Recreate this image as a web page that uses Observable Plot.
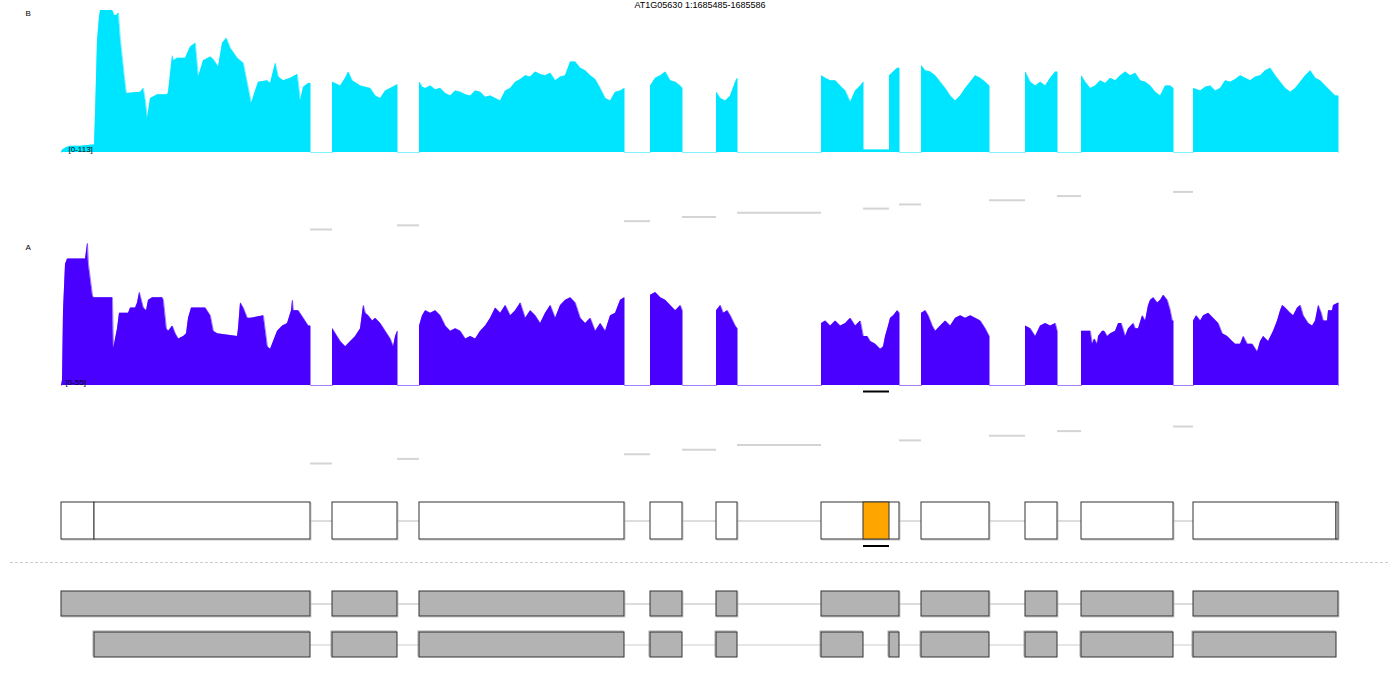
<!DOCTYPE html>
<html><head><meta charset="utf-8">
<script src="https://cdn.jsdelivr.net/npm/d3@7"></script>
<script src="https://cdn.jsdelivr.net/npm/@observablehq/plot@0.6"></script>
<style>
body{margin:0;background:#fff;font-family:"Liberation Sans",Arial,sans-serif;}
#wrap{position:relative;width:1400px;height:700px;overflow:hidden;background:#fff;}
#wrap svg{position:absolute;left:0;top:0;background:transparent;}
#title{position:absolute;top:1px;left:0;width:1400px;text-align:center;font-size:9px;line-height:9px;color:#000;}
</style></head><body>
<div id="wrap"><div id="title"></div></div>
<script>
const title = "AT1G05630 1:1685485-1685586";
const labelB = "B", rangeB = "[0-113]", maxB = 113;
const labelA = "A", rangeA = "[0-55]", maxA = 55;
const colB = "#00e5ff", colA = "#4a00ff";

// coverage [position, depth]
const covB = [[61,0],[62,2],[66,4],[70,5],[80,5],[92,6],[94,6],[95,30],[97,89],[99,108],[100,113],[112,113],[114,109],[116,109],[118,111],[120,90],[124,60],[126,47],[140,48],[143,51],[145,41],[147,27],[150,43],[157,46],[167,46],[168,48],[172,77],[173,73],[177,75],[185,75],[190,84],[195,87],[198,60],[203,73],[210,76],[213,74],[218,68],[222,87],[226,91],[230,83],[237,75],[243,71],[247,55],[251,39],[255,49],[258,56],[267,57],[270,55],[275,71],[278,60],[283,57],[290,59],[297,62],[300,41],[303,52],[308,55],[310,55],[310,0],
[332,0],[332,56],[340,53],[345,59],[348,64],[352,57],[360,53],[370,51],[375,45],[380,43],[385,49],[390,51],[397,54],[397,0],
[419,0],[419,56],[422,52],[425,51],[430,53],[435,50],[440,51],[445,47],[450,45],[455,49],[460,48],[465,46],[470,45],[475,49],[480,48],[485,44],[490,45],[495,43],[500,41],[505,49],[510,51],[515,56],[520,58],[525,61],[530,60],[535,64],[540,62],[545,61],[550,63],[555,57],[560,60],[565,61],[570,72],[575,72],[580,67],[585,65],[590,61],[595,58],[600,51],[605,43],[610,41],[615,48],[620,49],[624,51],[624,0],
[650,0],[650,53],[655,59],[660,61],[665,64],[670,57],[675,56],[680,53],[682,51],[682,0],
[716,0],[716,48],[720,43],[725,41],[730,45],[735,56],[737,59],[737,0],
[821,0],[821,61],[825,59],[830,57],[835,57],[840,53],[845,49],[850,40],[855,49],[860,53],[863,56],[863,2],[889,2],[889,61],[893,64],[897,67],[899,67],[899,0],
[921,0],[921,69],[925,65],[930,64],[935,61],[940,56],[945,51],[950,45],[955,41],[960,45],[965,51],[970,56],[975,61],[980,59],[985,56],[989,53],[989,0],
[1025,0],[1025,64],[1030,56],[1035,53],[1040,56],[1045,53],[1050,59],[1055,64],[1057,64],[1057,0],
[1081,0],[1081,61],[1085,56],[1090,51],[1095,53],[1100,57],[1105,55],[1110,59],[1115,57],[1120,61],[1125,64],[1130,61],[1135,63],[1140,57],[1145,56],[1150,53],[1155,48],[1160,45],[1165,53],[1170,53],[1173,51],[1173,0],
[1193,0],[1193,51],[1200,49],[1205,52],[1210,53],[1215,49],[1220,51],[1225,57],[1230,56],[1235,58],[1240,61],[1245,59],[1250,57],[1255,60],[1260,61],[1265,65],[1270,67],[1275,61],[1280,56],[1285,51],[1290,48],[1295,51],[1300,56],[1305,61],[1310,65],[1315,59],[1320,57],[1325,53],[1330,49],[1335,45],[1338,45],[1338,0]];

const covA = [[61,0],[62,2],[63,29],[65,47],[67,49],[85,49],[87,55],[88,47],[92,35],[93,34],[112,34],[113,14],[117,22],[119,28],[128,28],[130,30],[135,30],[137,32],[139,36],[143,30],[146,29],[148,33],[152,34],[162,34],[163,33],[166,22],[168,21],[172,23],[175,20],[178,18],[183,19],[186,20],[188,26],[191,30],[205,30],[210,27],[213,21],[217,20],[237,19],[238,22],[240,32],[243,30],[247,26],[250,26],[263,27],[267,15],[270,14],[273,17],[277,21],[282,23],[287,24],[291,29],[292,33],[293,29],[298,29],[303,26],[308,23],[310,23],[310,0],
[332,0],[332,22],[340,17],[345,15],[350,17],[355,19],[360,22],[363,31],[365,28],[368,27],[372,25],[375,26],[380,24],[385,21],[390,18],[393,15],[395,19],[397,21],[397,0],
[419,0],[419,23],[422,27],[425,29],[430,28],[435,29],[440,27],[445,23],[450,21],[455,22],[460,21],[465,18],[470,19],[475,18],[480,21],[485,23],[490,26],[495,30],[500,28],[505,31],[510,27],[515,29],[520,32],[525,26],[530,29],[535,27],[540,24],[545,28],[550,31],[555,26],[560,31],[565,33],[570,34],[575,32],[580,26],[585,24],[590,26],[595,21],[600,24],[605,21],[610,27],[615,28],[620,33],[624,34],[624,0],
[650,0],[650,35],[655,36],[660,34],[665,33],[670,31],[675,29],[680,31],[682,29],[682,0],
[716,0],[716,29],[720,31],[723,28],[727,29],[730,27],[735,23],[737,22],[737,0],
[821,0],[821,24],[825,25],[830,23],[835,25],[840,23],[845,24],[850,26],[855,23],[860,25],[863,19],[867,19],[870,17],[875,16],[880,14],[883,15],[885,19],[888,23],[890,26],[893,27],[897,29],[899,28],[899,0],
[921,0],[921,28],[925,29],[928,27],[932,23],[935,21],[940,23],[945,25],[950,23],[955,26],[960,27],[965,26],[970,27],[975,26],[980,25],[985,22],[989,19],[989,0],
[1025,0],[1025,23],[1030,22],[1035,19],[1040,23],[1045,24],[1050,23],[1055,24],[1057,21],[1057,0],
[1081,0],[1081,21],[1090,21],[1092,16],[1094,18],[1097,16],[1098,19],[1102,21],[1104,21],[1107,19],[1110,20],[1115,21],[1118,24],[1121,24],[1125,19],[1128,22],[1133,24],[1135,22],[1138,22],[1142,27],[1145,25],[1148,31],[1150,33],[1153,34],[1157,32],[1160,33],[1163,35],[1167,33],[1170,29],[1172,25],[1173,25],[1173,0],
[1193,0],[1193,25],[1196,27],[1200,25],[1203,27],[1208,28],[1213,26],[1218,24],[1222,20],[1227,19],[1232,17],[1235,16],[1240,16],[1243,19],[1247,16],[1252,16],[1257,13],[1260,17],[1263,19],[1268,17],[1273,21],[1277,25],[1280,29],[1282,31],[1285,30],[1290,28],[1293,27],[1297,30],[1300,31],[1303,27],[1308,24],[1312,23],[1315,25],[1318,31],[1321,28],[1323,25],[1327,25],[1328,29],[1332,29],[1333,31],[1338,32],[1338,0]];

// splice junctions [start, end]
const junctionsB = [[310,332],[397,419],[624,650],[682,716],[737,821],[863,889],[899,921],[989,1025],[1057,1081],[1173,1193]];
const junctionsA = [[310,332],[397,419],[624,650],[682,716],[737,821],[899,921],[989,1025],[1057,1081],[1173,1193]];

// gene model & transcripts [start, end]
const modelExons = [[61,94],[94,310],[332,397],[419,624],[650,682],[716,737],[821,899],[921,989],[1025,1057],[1081,1173],[1193,1336],[1336,1338]];
const highlight = [863,889];
const t1Exons = [[61,310],[332,397],[419,624],[650,682],[716,737],[821,899],[921,989],[1025,1057],[1081,1173],[1193,1338]];
const t2Exons = [[94,310],[332,397],[419,624],[650,682],[716,737],[821,863],[889,899],[921,989],[1025,1057],[1081,1173],[1193,1336]];
const separator = [10,1388];

document.getElementById("title").textContent = title;
const wrap = document.getElementById("wrap");
const base = {
  width:1400, height:700, margin:0,
  x:{domain:[0,1400], range:[0,1400], axis:null},
  style:{background:"transparent", fontFamily:"Liberation Sans, Arial, sans-serif", color:"#000"}
};
const P = (o) => wrap.appendChild(Plot.plot({...base, ...o}));
const s = d => d[0], e = d => d[1];

// Track B coverage
P({
  y:{domain:[0,maxB], range:[152,10], axis:null},
  marks:[
    Plot.areaY(covB, {x:s, y1:0, y2:e, fill:colB}),
    Plot.lineY(covB, {x:s, y:e, stroke:colB, strokeWidth:1, strokeOpacity:0.5}),
    Plot.text([labelB], {frameAnchor:"top-left", dx:25, dy:10, fontSize:8, fill:"#000", textAnchor:"start", lineAnchor:"top"}),
    Plot.text([rangeB], {x:()=>covB[0][0], y:()=>0, dx:7, dy:-1, fontSize:8, fill:"#000", textAnchor:"start", lineAnchor:"bottom"})
  ]
});
// Track B junctions
P({
  y:{domain:[0,junctionsB.length-1], range:[229,191.4], axis:null},
  marks:[Plot.ruleY(junctionsB, {x1:s, x2:e, y:(d,i)=>i, stroke:"#d4d4d4", strokeWidth:2})]
});
// Track A coverage
P({
  y:{domain:[0,maxA], range:[385,243], axis:null},
  marks:[
    Plot.areaY(covA, {x:s, y1:0, y2:e, fill:colA}),
    Plot.lineY(covA, {x:s, y:e, stroke:colA, strokeWidth:1, strokeOpacity:0.5}),
    Plot.text([labelA], {frameAnchor:"top-left", dx:25, dy:244, fontSize:8, fill:"#000", textAnchor:"start", lineAnchor:"top"}),
    Plot.text([rangeA], {x:()=>covA[0][0], y:()=>0, dx:4, dy:-1, fontSize:8, fill:"#000", textAnchor:"start", lineAnchor:"bottom"}),
    Plot.ruleY([0], {x1:()=>highlight[0], x2:()=>highlight[1], dy:6, stroke:"#000", strokeWidth:2})
  ]
});
// Track A junctions
P({
  y:{domain:[0,junctionsA.length-1], range:[463,426], axis:null},
  marks:[Plot.ruleY(junctionsA, {x1:s, x2:e, y:(d,i)=>i, stroke:"#d4d4d4", strokeWidth:2})]
});
// Gene model
P({
  y:{type:"band", domain:["model"], range:[502,539], padding:0, axis:null},
  marks:[
    Plot.ruleY(["model"], {x1:()=>modelExons[0][0], x2:()=>modelExons[modelExons.length-1][1], y:d=>d, stroke:"#dddddd", strokeWidth:2}),
    Plot.barX(modelExons, {x1:s, x2:e, y:()=>"model", fill:"none", stroke:"#cccccc", dx:1, dy:1}),
    Plot.barX(modelExons, {x1:s, x2:e, y:()=>"model", fill:"#ffffff", stroke:"#333333"}),
    Plot.barX([highlight], {x1:s, x2:e, y:()=>"model", fill:"#ffa500", stroke:"#333333"}),
    Plot.ruleY(["model"], {x1:()=>highlight[0], x2:()=>highlight[1], y:d=>d, dy:25, stroke:"#000", strokeWidth:2})
  ]
});
// Separator
P({
  y:{type:"point", domain:["sep"], range:[562,562], axis:null},
  marks:[Plot.ruleY(["sep"], {x1:()=>separator[0], x2:()=>separator[1], y:d=>d, stroke:"#cccccc", strokeDasharray:"3,2"})]
});
// Transcripts
P({
  y:{type:"band", domain:["T1","T2"], range:[591,657], paddingInner:16/41, paddingOuter:0, axis:null},
  marks:[
    Plot.ruleY(["T1"], {x1:()=>t1Exons[0][0], x2:()=>t1Exons[t1Exons.length-1][1], y:d=>d, stroke:"#dddddd", strokeWidth:2}),
    Plot.ruleY(["T2"], {x1:()=>t2Exons[0][0], x2:()=>t2Exons[t2Exons.length-1][1], y:d=>d, stroke:"#cccccc", strokeWidth:1}),
    Plot.barX(t1Exons, {x1:s, x2:e, y:()=>"T1", fill:"none", stroke:"#cccccc", dx:1, dy:1}),
    Plot.barX(t1Exons, {x1:s, x2:e, y:()=>"T1", fill:"#b3b3b3", stroke:"#333333"}),
    Plot.barX(t2Exons, {x1:s, x2:e, y:()=>"T2", fill:"none", stroke:"#aaaaaa", dx:-1, dy:-1}),
    Plot.barX(t2Exons, {x1:s, x2:e, y:()=>"T2", fill:"#b3b3b3", stroke:"#333333"})
  ]
});
</script>
</body></html>
